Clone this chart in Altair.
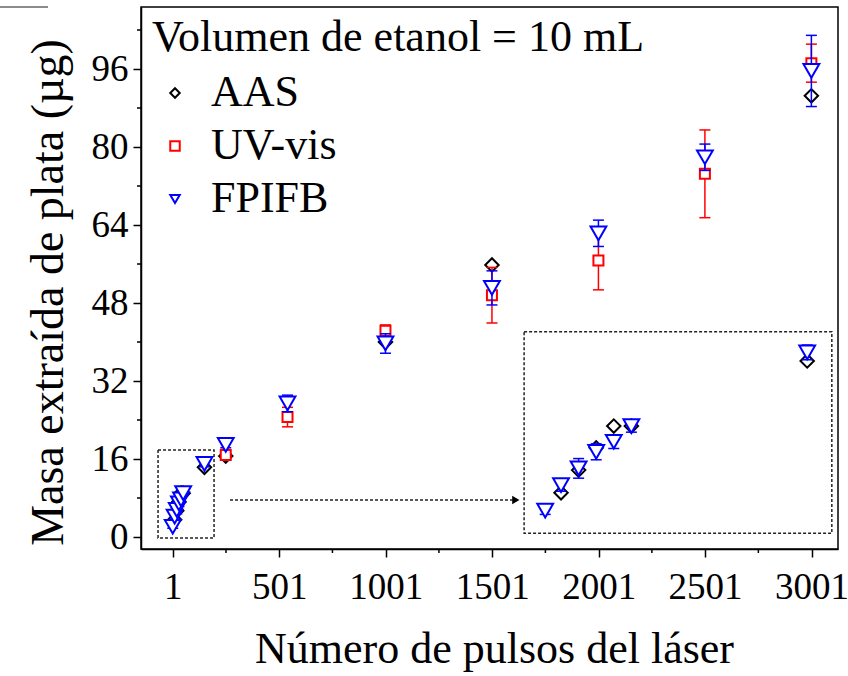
import altair as alt
import pandas as pd

# ---------------- data ----------------
x_major = [1, 501, 1001, 1501, 2001, 2501, 3001]
x_minor = [251, 751, 1251, 1751, 2251, 2751]
y_major = [0, 16, 32, 48, 64, 80, 96]
y_minor = [8, 24, 40, 56, 72, 88, 104]

series_names = ["AAS", "UV-vis", "FPIFB"]
series_colors = ["#000000", "#ff0000", "#0000ff"]
series_shapes = ["diamond", "square", "triangle-down"]

aas_x = [10, 20, 30, 40, 50, 150, 250, 1000, 1500, 3000]
aas_y = [3.56, 5.41, 7.23, 9.0, 9.0, 14.3, 16.6, 40.0, 55.8, 90.5]

uv_x = [250, 540, 1000, 1500, 2000, 2500, 3000]
uv_y = [16.8, 24.6, 42.3, 49.6, 56.7, 74.5, 97.2]
uv_err = [0.5, 2.0, 1.2, 5.7, 6.0, 9.0, 3.9]

fp_x = [1, 10, 20, 30, 40, 50, 150, 250, 540, 1000, 1500, 2000, 2500, 3000]
fp_y = [2.1, 4.19, 5.55, 6.9, 7.72, 9.0, 15.0, 18.9, 27.4, 39.7, 51.1, 62.3, 77.9, 95.6]
fp_err = [0.3, 0.5, 0.8, 0.65, 0.55, 0.5, 0.6, 0.6, 1.7, 2.0, 3.5, 2.7, 2.7, 7.3]

# dashed boxes: [small zoom region, inset frame], in data units
box_x = [-68, 1651]
box_x2 = [195, 3096]
box_y = [-0.2, 0.76]
box_y2 = [17.85, 42.1]

arrow_x = [270]
arrow_x2 = [1598]
arrow_y = [7.6]
arrow_head_x = [1612]

inset_limit = 150            # points repeated in the inset
inset_x_domain = [-11, 164]  # inset frame spans this range of pulses
inset_y_domain = [0.26, 16.68]

legend_title = "Volumen de etanol = 10 mL"

# ---------------- layout ----------------
W, H = 697, 542
X_DOM = [-148, 3125]
Y_DOM = [-2.46, 108.72]
FONT = "Liberation Serif"

xs = alt.Scale(domain=X_DOM, nice=False, zero=False)
ys = alt.Scale(domain=Y_DOM, nice=False, zero=False)

color_scale = alt.Scale(domain=series_names, range=series_colors)
shape_scale = alt.Scale(domain=series_names, range=series_shapes)

x_axis = alt.Axis(values=x_major, format="d", grid=False,
                  title="Número de pulsos del láser",
                  titleFont=FONT, titleFontSize=44, titleFontWeight="normal", titleColor="black",
                  titleX=353, titleY=113, titleBaseline="alphabetic", titleAlign="center",
                  labelFont=FONT, labelFontSize=37, labelColor="black", labelPadding=12,
                  labelFlush=False, labelOverlap=False,
                  tickSize=8, tickWidth=1.5, tickColor="black",
                  domainColor="black", domainWidth=1.5)
y_axis = alt.Axis(values=y_major, format="d", grid=False,
                  title="Masa extraída de plata (µg)",
                  titleFont=FONT, titleFontSize=46, titleFontWeight="normal", titleColor="black",
                  titleAngle=-90, titleX=-93, titleY=285, titleBaseline="middle", titleAlign="center",
                  labelFont=FONT, labelFontSize=37, labelColor="black", labelPadding=5,
                  labelFlush=False, labelOverlap=False,
                  tickSize=8, tickWidth=1.5, tickColor="black",
                  domainColor="black", domainWidth=1.5)


def X(field):
    return alt.X(field, type="quantitative", scale=xs, axis=x_axis)


def Y(field):
    return alt.Y(field, type="quantitative", scale=ys, axis=y_axis)


def make_df(xv, yv, name, err=None):
    d = pd.DataFrame({"x": xv, "y": yv, "serie": name})
    if err is None:
        err = [0] * len(xv)
    d["e"] = err
    return d


aas = make_df(aas_x, aas_y, "AAS")
uv = make_df(uv_x, uv_y, "UV-vis", uv_err)
fp = make_df(fp_x, fp_y, "FPIFB", fp_err)

sizes = {"AAS": 180, "UV-vis": 100, "FPIFB": 250}

# linear map from inset units into the inset frame (main data units)
kx = (box_x2[1] - box_x[1]) / (inset_x_domain[1] - inset_x_domain[0])
ky = (box_y2[1] - box_y[1]) / (inset_y_domain[1] - inset_y_domain[0])


def base(df, inset=False):
    c = alt.Chart(df)
    if inset:
        c = c.transform_filter(alt.datum.x <= inset_limit).transform_calculate(
            px=f"{box_x[1]} + (datum.x - ({inset_x_domain[0]})) * {kx}",
            py=f"{box_y[1]} + (datum.y - ({inset_y_domain[0]})) * {ky}",
            lo=f"{box_y[1]} + (datum.y - datum.e - ({inset_y_domain[0]})) * {ky}",
            hi=f"{box_y[1]} + (datum.y + datum.e - ({inset_y_domain[0]})) * {ky}",
        )
    else:
        c = c.transform_calculate(
            px="datum.x", py="datum.y",
            lo="datum.y - datum.e", hi="datum.y + datum.e",
        )
    return c


def points(df, inset=False):
    name = df["serie"].iloc[0]
    return base(df, inset).mark_point(filled=False, fill="white", strokeWidth=2,
                                      size=sizes[name], opacity=1).encode(
        x=X("px"), y=Y("py"),
        color=alt.Color("serie:N", scale=color_scale, title=legend_title),
        shape=alt.Shape("serie:N", scale=shape_scale, title=legend_title),
    )


def errbars(df, col, inset=False):
    bar = base(df, inset).mark_rule(strokeWidth=1.5, color=col).encode(
        x=X("px"), y=Y("lo"), y2="hi:Q",
    )
    caps = []
    for f in ["lo", "hi"]:
        caps.append(base(df, inset).mark_tick(orient="horizontal", size=11, thickness=1.5,
                                              color=col, opacity=1).encode(
            x=X("px"), y=Y(f),
        ))
    return [bar] + caps


boxes_df = pd.DataFrame({"x": box_x, "x2": box_x2, "y": box_y, "y2": box_y2})
boxes = alt.Chart(boxes_df).mark_rect(fill="white", fillOpacity=0, stroke="#222",
                                      strokeWidth=1.5, strokeDash=[3, 2]).encode(
    x=X("x"), x2="x2:Q", y=Y("y"), y2="y2:Q",
)

arrow_df = pd.DataFrame({"x": arrow_x, "x2": arrow_x2, "y": arrow_y})
arrow_line = alt.Chart(arrow_df).mark_rule(stroke="#222", strokeWidth=1.5, strokeDash=[3, 2]).encode(
    x=X("x"), x2="x2:Q", y=Y("y"),
)
head_df = pd.DataFrame({"x": arrow_head_x, "y": arrow_y})
arrow_head = alt.Chart(head_df).mark_point(shape="triangle-right", filled=True, color="black",
                                           size=70, opacity=1).encode(
    x=X("x"), y=Y("y"),
)

xminor_df = pd.DataFrame({"x": x_minor})
xminor = alt.Chart(xminor_df).mark_rule(color="black", strokeWidth=1.5).encode(
    x=X("x"), y=alt.value(H), y2=alt.value(H + 4))
yminor_df = pd.DataFrame({"y": y_minor})
yminor = alt.Chart(yminor_df).mark_rule(color="black", strokeWidth=1.5).encode(
    y=Y("y"), x=alt.value(0), x2=alt.value(-4))

stray = alt.Chart(alt.Data(values=[{}])).mark_rule(color="#666", strokeWidth=1.5).encode(
    x=alt.value(-141), x2=alt.value(-93), y=alt.value(0))

chart = alt.layer(
    boxes, arrow_line, arrow_head, xminor, yminor, stray,
    points(aas),
    *errbars(uv, "#ff0000"), points(uv),
    *errbars(fp, "#0000ff"), points(fp),
    points(aas, inset=True),
    *errbars(fp, "#0000ff", inset=True), points(fp, inset=True),
).properties(
    width=W, height=H,
    autosize=alt.AutoSizeParams(type="none"),
    padding={"left": 141, "top": 7, "right": 10, "bottom": 127},
    background="white",
).configure(font=FONT).configure_axis(
    labelFont=FONT, titleFont=FONT,
).configure_view(stroke="black", strokeWidth=1.5).configure_legend(
    orient="none", legendX=11, legendY=9, padding=0,
    titleFont=FONT, titleFontSize=44, titleFontWeight="normal", titleColor="black",
    titlePadding=11, titleLimit=1000,
    labelFont=FONT, labelFontSize=44, labelColor="black", labelLimit=1000,
    symbolSize=90, symbolStrokeWidth=2, symbolOffset=1, labelOffset=14, rowPadding=9,
)

chart.save("out.html", embed_options={"renderer": "svg", "actions": False})
